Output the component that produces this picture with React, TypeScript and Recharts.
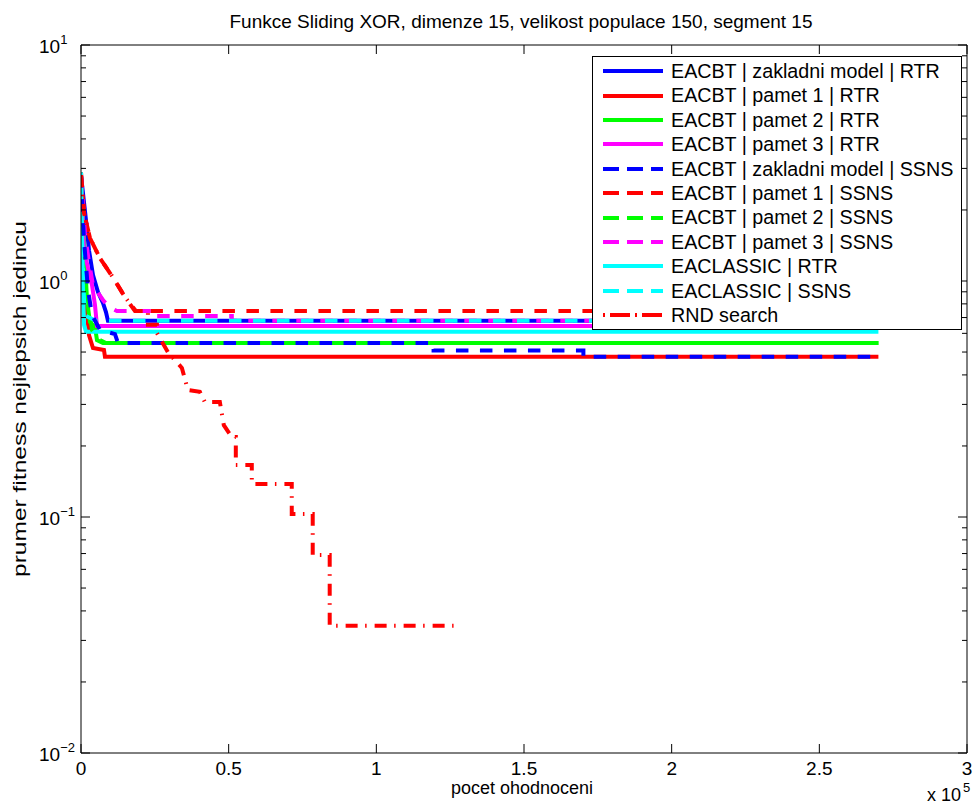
import React from 'react';
import { LineChart, Line, XAxis, YAxis } from 'recharts';

const FONT = '"Liberation Sans", Arial, Helvetica, sans-serif';

// ---- axis ticks ----
const X_TICKS = [0, 50000, 100000, 150000, 200000, 250000, 300000];
const X_TICK_LABELS = ['0', '0.5', '1', '1.5', '2', '2.5', '3'];
const Y_MAJOR = [0.01, 0.1, 1, 10];
const Y_MAJOR_EXP = ['\u22122', '\u22121', '0', '1'];
const Y_MINOR = [0.02, 0.03, 0.04, 0.05, 0.06, 0.07, 0.08, 0.09, 0.2, 0.3, 0.4, 0.5, 0.6, 0.7, 0.8, 0.9, 2, 3, 4, 5, 6, 7, 8, 9];

// ---- series values (x = pocet ohodnoceni, y = prumer fitness) ----
const BLUE_RTR_X = [0, 1690, 2706, 4058, 5749, 7440, 8454, 9130, 270000];
const BLUE_RTR_Y = [2.81, 1.81, 1.35, 1.06, 0.897, 0.807, 0.739, 0.678, 0.678];

const RED_RTR_X = [0, 676, 1691, 2706, 4058, 7779, 8117, 270000];
const RED_RTR_Y = [2.73, 1.49, 0.831, 0.59, 0.52, 0.51, 0.477, 0.477];

const GREEN_RTR_X = [0, 1015, 2029, 3044, 4735, 5411, 7440, 270000];
const GREEN_RTR_Y = [2.73, 1.49, 0.831, 0.67, 0.638, 0.562, 0.546, 0.546];

const MAGENTA_RTR_X = [0, 1015, 2368, 3720, 4735, 5411, 270000];
const MAGENTA_RTR_Y = [2.73, 1.35, 1.135, 0.962, 0.791, 0.645, 0.645];

const BLUE_SSNS_X = [0, 1015, 2368, 3720, 6426, 11499, 12513, 119380, 119380, 170110, 170110, 270000];
const BLUE_SSNS_Y = [2.81, 1.49, 0.917, 0.718, 0.62, 0.596, 0.546, 0.546, 0.507, 0.507, 0.477, 0.477];

const RED_SSNS_X = [0, 338, 1015, 3044, 6426, 11161, 14881, 18263, 270000];
const RED_SSNS_Y = [2.89, 2.55, 1.94, 1.52, 1.25, 1.02, 0.855, 0.746, 0.746];

const GREEN_SSNS_X = [0, 1353, 2368, 3720, 6426, 8455, 270000];
const GREEN_SSNS_Y = [2.81, 1.23, 0.831, 0.62, 0.562, 0.546, 0.546];

const MAGENTA_SSNS_X = [0, 1353, 2706, 4058, 5749, 7440, 9470, 12175, 25030, 25030, 51070, 51070, 270000];
const MAGENTA_SSNS_Y = [2.81, 1.57, 1.2, 0.962, 0.892, 0.831, 0.776, 0.746, 0.746, 0.711, 0.711, 0.678, 0.678];

const CYAN_RTR_X = [0, 338, 676, 1015, 1691, 270000];
const CYAN_RTR_Y = [2.89, 1.64, 0.917, 0.652, 0.61, 0.61];

const CYAN_SSNS_X = [0, 338, 1015, 1691, 5073, 270000];
const CYAN_SSNS_Y = [2.89, 1.49, 0.831, 0.711, 0.678, 0.678];

const RND_X = [0, 338, 1015, 3044, 6426, 11161, 14881, 18600, 22660, 22660, 25700, 25700, 29420, 34160, 36190, 40250, 41940, 47010, 48360, 51070, 52420, 52420, 57830, 57830, 71360, 71360, 78460, 78460, 84210, 84210, 126150];
const RND_Y = [2.81, 2.55, 1.94, 1.52, 1.25, 1.02, 0.855, 0.746, 0.746, 0.652, 0.652, 0.602, 0.5, 0.428, 0.345, 0.339, 0.307, 0.307, 0.245, 0.218, 0.218, 0.166, 0.166, 0.138, 0.138, 0.103, 0.103, 0.069, 0.069, 0.0346, 0.0346];

type Kind = 'solid' | 'dash' | 'dashdot';
interface S { key: string; name: string; color: string; kind: Kind; xs: number[]; ys: number[]; }

const zip = (xs: number[], ys: number[]) => xs.map((x, i) => ({ x, y: ys[i] }));

const SERIES: S[] = [
  { key: 'bR', name: 'EACBT | zakladni model | RTR', color: '#0000ff', kind: 'solid', xs: BLUE_RTR_X, ys: BLUE_RTR_Y },
  { key: 'rR', name: 'EACBT | pamet 1 | RTR', color: '#ff0000', kind: 'solid', xs: RED_RTR_X, ys: RED_RTR_Y },
  { key: 'gR', name: 'EACBT | pamet 2 | RTR', color: '#00ff00', kind: 'solid', xs: GREEN_RTR_X, ys: GREEN_RTR_Y },
  { key: 'mR', name: 'EACBT | pamet 3 | RTR', color: '#ff00ff', kind: 'solid', xs: MAGENTA_RTR_X, ys: MAGENTA_RTR_Y },
  { key: 'bS', name: 'EACBT | zakladni model | SSNS', color: '#0000ff', kind: 'dash', xs: BLUE_SSNS_X, ys: BLUE_SSNS_Y },
  { key: 'rS', name: 'EACBT | pamet 1 | SSNS', color: '#ff0000', kind: 'dash', xs: RED_SSNS_X, ys: RED_SSNS_Y },
  { key: 'gS', name: 'EACBT | pamet 2 | SSNS', color: '#00ff00', kind: 'dash', xs: GREEN_SSNS_X, ys: GREEN_SSNS_Y },
  { key: 'mS', name: 'EACBT | pamet 3 | SSNS', color: '#ff00ff', kind: 'dash', xs: MAGENTA_SSNS_X, ys: MAGENTA_SSNS_Y },
  { key: 'cR', name: 'EACLASSIC | RTR', color: '#00ffff', kind: 'solid', xs: CYAN_RTR_X, ys: CYAN_RTR_Y },
  { key: 'cS', name: 'EACLASSIC | SSNS', color: '#00ffff', kind: 'dash', xs: CYAN_SSNS_X, ys: CYAN_SSNS_Y },
  { key: 'rnd', name: 'RND search', color: '#ff0000', kind: 'dashdot', xs: RND_X, ys: RND_Y },
];

const DRAW_ORDER = ['bR', 'rR', 'gR', 'mR', 'cR', 'gS', 'rS', 'mS', 'cS', 'bS', 'rnd'];

const plotDash = (k: Kind) => (k === 'dash' ? '12.5 11.5' : k === 'dashdot' ? '12 7.5 1.5 8' : undefined);
const legendDash = (k: Kind) => (k === 'dash' ? '16 8' : k === 'dashdot' ? '2 5 20 5' : undefined);

const LeftTick = (props: any) => {
  const { x, y, payload } = props;
  const idx = Y_MAJOR.indexOf(payload.value);
  const major = idx >= 0;
  return (
    <g>
      <line x1={x} x2={x + (major ? 9 : 5)} y1={y} y2={y} stroke="#000" strokeWidth={1} />
      {major && (
        <text x={x - 42} y={y + 8} fontSize={19} fontFamily={FONT} fill="#000">
          10<tspan dy={-9} fontSize={13}>{Y_MAJOR_EXP[idx]}</tspan>
        </text>
      )}
    </g>
  );
};

const RightTick = (props: any) => {
  const { x, y, payload } = props;
  const major = Y_MAJOR.indexOf(payload.value) >= 0;
  return <line x1={x} x2={x - (major ? 9 : 5)} y1={y} y2={y} stroke="#000" strokeWidth={1} />;
};

const BottomTick = (props: any) => {
  const { x, y, payload } = props;
  const idx = X_TICKS.indexOf(payload.value);
  return (
    <g>
      <line x1={x} x2={x} y1={y} y2={y - 9} stroke="#000" strokeWidth={1} />
      <text x={x} y={y + 22} textAnchor="middle" fontSize={19} fontFamily={FONT} fill="#000">
        {X_TICK_LABELS[idx]}
      </text>
    </g>
  );
};

const TopTick = (props: any) => {
  const { x, y } = props;
  return <line x1={x} x2={x} y1={y} y2={y + 9} stroke="#000" strokeWidth={1} />;
};

const XLabel = (props: any) => {
  const vb = props.viewBox || {};
  const cx = vb.x + vb.width / 2;
  const right = vb.x + vb.width;
  return (
    <g fontFamily={FONT} fill="#000">
      <text x={cx - 2} y={vb.y + 41} textAnchor="middle" fontSize={18} textLength={142} lengthAdjust="spacingAndGlyphs">pocet ohodnoceni</text>
      <text x={right - 6} y={vb.y + 48} textAnchor="end" fontSize={18}>x 10</text>
      <text x={right - 4} y={vb.y + 39} fontSize={13}>5</text>
    </g>
  );
};

const TitleLabel = (props: any) => {
  const vb = props.viewBox || {};
  return (
    <text x={vb.x + vb.width / 2 - 3} y={vb.y - 16} textAnchor="middle" fontSize={19} fontFamily={FONT} fill="#000">
      Funkce Sliding XOR, dimenze 15, velikost populace 150, segment 15
    </text>
  );
};

const YLabel = (props: any) => {
  const vb = props.viewBox || {};
  const x = vb.x + 5;
  const y = vb.y + vb.height / 2;
  return (
    <text x={x} y={y} transform={`rotate(-90 ${x} ${y})`} textAnchor="middle" fontSize={19} fontFamily={FONT} fill="#000"
      textLength={356} lengthAdjust="spacingAndGlyphs">
      prumer fitness nejlepsich jedincu
    </text>
  );
};

const LegendBox = () => (
  <div
    style={{
      position: 'absolute', left: 592, top: 56, width: 370, height: 274, boxSizing: 'border-box',
      border: '1px solid #000', background: '#fff', fontFamily: FONT, fontSize: 19.7, color: '#000',
    }}
  >
    {SERIES.map((s, i) => (
      <div key={s.key} style={{ position: 'absolute', left: 0, top: 2 + i * 24.4, height: 24.4, width: '100%' }}>
        <svg width={60} height={8} style={{ position: 'absolute', left: 10, top: 8.2 }}>
          <line x1={0} x2={60} y1={4} y2={4} stroke={s.color} strokeWidth={4} strokeDasharray={legendDash(s.kind)} />
        </svg>
        <div style={{ position: 'absolute', left: 78, top: 0, lineHeight: '24.4px', whiteSpace: 'nowrap' }}>{s.name}</div>
      </div>
    ))}
  </div>
);

export default function App() {
  const ordered = DRAW_ORDER.map((k) => SERIES.find((s) => s.key === k)!);
  return (
    <div style={{ position: 'absolute', left: 0, top: 0, width: 979, height: 805, background: '#fff' }}>
      <LineChart width={979} height={805} margin={{ top: 44, right: 11, bottom: 22, left: 21 }}>
        <XAxis
          dataKey="x" type="number" domain={[0, 300000]} ticks={X_TICKS} interval={0} allowDataOverflow
          height={30} tickSize={0} tickMargin={0} tickLine={false} tick={<BottomTick />}
          axisLine={{ stroke: '#000', strokeWidth: 1 }} label={<XLabel />}
        />
        <XAxis
          xAxisId="top" orientation="top" dataKey="x" type="number" domain={[0, 300000]} ticks={X_TICKS} interval={0}
          allowDataOverflow height={1} tickSize={0} tickMargin={0} tickLine={false} tick={<TopTick />}
          axisLine={{ stroke: '#000', strokeWidth: 1 }} label={<TitleLabel />}
        />
        <YAxis
          type="number" scale="log" domain={[0.01, 10]} allowDataOverflow ticks={[...Y_MAJOR, ...Y_MINOR]} interval={0}
          width={60} tickSize={0} tickMargin={0} tickLine={false} tick={<LeftTick />}
          axisLine={{ stroke: '#000', strokeWidth: 1 }} label={<YLabel />}
        />
        <YAxis
          yAxisId="right" orientation="right" type="number" scale="log" domain={[0.01, 10]} allowDataOverflow
          ticks={[...Y_MAJOR, ...Y_MINOR]} interval={0} width={1} tickSize={0} tickMargin={0} tickLine={false}
          tick={<RightTick />} axisLine={{ stroke: '#000', strokeWidth: 1 }}
        />
        {ordered.map((s) => (
          <Line
            key={s.key}
            data={zip(s.xs, s.ys)}
            dataKey="y"
            name={s.name}
            type="linear"
            stroke={s.color}
            strokeWidth={4}
            strokeDasharray={plotDash(s.kind)}
            dot={false}
            activeDot={false}
            isAnimationActive={false}
          />
        ))}
      </LineChart>
      <LegendBox />
    </div>
  );
}
